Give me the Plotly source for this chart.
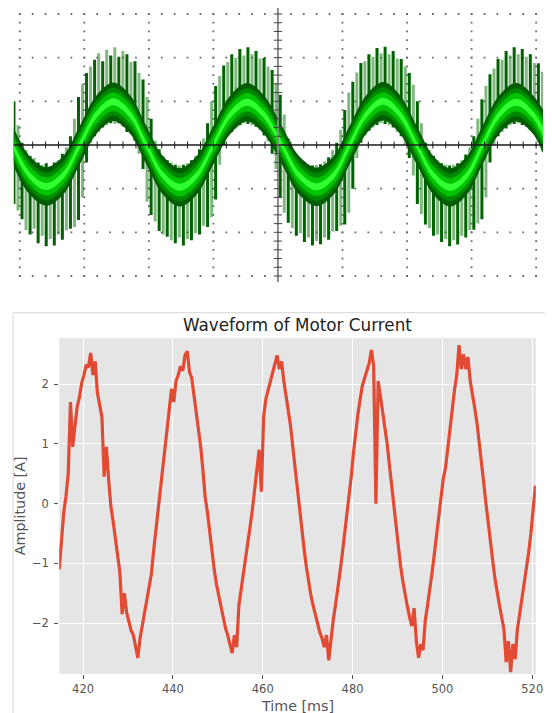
import numpy as np
import plotly.graph_objects as go

# ---------------- Bottom chart: waveform of motor current ----------------
t_start_ms = 414.7
t_step_ms = 0.5
current_A = [
    -1.10, -0.62, -0.15, 0.12, 0.50, 1.70, 0.95, 1.30, 1.62, 1.78,
    2.02, 2.15, 2.32, 2.28, 2.52, 2.15, 2.38, 1.85, 1.62, 1.45,
    0.45, 0.95, 0.40, -0.05, -0.30, -0.62, -0.90, -1.15, -1.85, -1.50,
    -1.82, -2.00, -2.12, -2.20, -2.38, -2.58, -2.25, -2.05, -1.85, -1.62,
    -1.42, -1.18, -0.80, -0.45, -0.10, 0.25, 0.62, 0.98, 1.32, 1.60,
    1.92, 1.70, 2.05, 2.15, 2.30, 2.22, 2.48, 2.55, 2.20, 2.10,
    1.80, 1.55, 1.30, 0.95, 0.55, 0.10, -0.15, -0.50, -0.80, -1.10,
    -1.35, -1.55, -1.75, -1.92, -2.08, -2.20, -2.35, -2.50, -2.20, -2.40,
    -1.70, -1.45, -1.20, -0.95, -0.62, -0.38, -0.10, 0.20, 0.55, 0.90,
    0.20, 1.45, 1.75, 1.90, 2.05, 2.20, 2.30, 2.48, 2.25, 2.38,
    2.05, 1.80, 1.55, 1.30, 0.95, 0.60, 0.22, -0.10, -0.45, -0.75,
    -1.05, -1.30, -1.52, -1.70, -1.88, -2.00, -2.15, -2.25, -2.40, -2.20,
    -2.62, -2.25, -1.95, -1.70, -1.45, -1.15, -0.85, -0.55, -0.20, 0.10,
    0.45, 0.85, 1.20, 1.50, 1.75, 1.98, 2.10, 2.25, 2.35, 2.57,
    2.30, 0.00, 2.05, 1.80, 1.55, 1.30, 1.00, 0.65, 0.30, -0.10,
    -0.45, -0.75, -1.05, -1.30, -1.55, -1.72, -1.90, -2.05, -1.75, -2.30,
    -2.58, -2.35, -2.45, -1.95, -1.70, -1.45, -1.15, -0.85, -0.55, -0.20,
    0.15, 0.42, 0.60, 0.95, 1.30, 1.60, 1.90, 2.15, 2.65, 2.25,
    2.50, 2.25, 2.45, 2.05, 1.85, 1.60, 1.35, 1.05, 0.70, 0.35,
    0.00, -0.35, -0.65, -0.95, -1.25, -1.50, -1.70, -1.90, -2.10, -2.65,
    -2.30, -2.82, -2.35, -2.60, -2.10, -1.85, -1.60, -1.35, -1.10, -0.82,
    -0.50, -0.15, 0.30,
]
time_ms = [t_start_ms + t_step_ms * i for i in range(len(current_A))]
x_ticks = [420, 440, 460, 480, 500, 520]
y_ticks = [-2, -1, 0, 1, 2]
chart_title = "Waveform of Motor Current"
x_label = "Time [ms]"
y_label = "Amplitude [A]"

# ---------------- Top panel: oscilloscope trace (screen divisions) ----------------
core_x = [-4.11, -3.85, -3.59, -3.33, -3.07, -2.81, -2.55, -2.29, -2.04, -1.78,
          -1.52, -1.26, -1.00, -0.74, -0.48, -0.22, 0.06, 0.33, 0.60, 0.86,
          1.11, 1.37, 1.63, 1.89, 2.15, 2.41, 2.67, 2.93, 3.17, 3.43,
          3.69, 3.95, 4.21]
core_y = [0.0, -0.69, -0.95, -0.70, 0.0, 0.70, 0.99, 0.70, 0.0, -0.70,
          -0.97, -0.70, 0.0, 0.69, 0.98, 0.70, 0.0, -0.70, -0.96, -0.70,
          0.0, 0.70, 1.00, 0.70, 0.0, -0.70, -0.97, -0.69, 0.0, 0.70,
          0.98, 0.70, 0.0]

spike_x0 = -4.09
spike_step = 0.0625
spike_top = [
    1.00, 0.45, 0.05, -0.12, -0.25, -0.30, -0.40, -0.45, -0.42, -0.48,
    -0.40, -0.35, -0.20, -0.05, 0.20, 0.60, 1.10, 1.40, 1.65, 1.80,
    1.95, 2.10, 1.92, 2.18, 2.05, 2.24, 2.02, 2.15, 2.08, 1.90,
    1.92, 1.65, 1.50, 1.10, 0.60, 0.10, -0.10, -0.25, -0.35, -0.40,
    -0.45, -0.47, -0.45, -0.42, -0.35, -0.25, -0.10, 0.15, 0.50, 1.00,
    1.35, 1.58, 1.82, 1.90, 2.08, 2.00, 2.20, 2.05, 2.24, 2.08,
    2.15, 1.98, 2.00, 1.80, 1.72, 1.42, 1.15, 0.70, 0.15, -0.08,
    -0.22, -0.32, -0.40, -0.45, -0.47, -0.46, -0.44, -0.38, -0.28, -0.12,
    0.05, 0.35, 0.80, 1.20, 1.45, 1.66, 1.88, 1.92, 2.08, 2.02,
    2.22, 2.10, 2.25, 2.08, 2.15, 1.98, 1.97, 1.80, 1.65, 1.38,
    1.00, 0.50, 0.05, -0.12, -0.25, -0.35, -0.42, -0.45, -0.47, -0.45,
    -0.42, -0.35, -0.22, -0.05, 0.20, 0.60, 1.05, 1.35, 1.62, 1.75,
    1.97, 1.95, 2.15, 2.05, 2.24, 2.08, 2.20, 2.02, 2.08, 1.88,
    1.87, 1.68,
]
spike_bottom = [
    -1.35, -1.50, -1.70, -1.95, -2.05, -1.92, -2.25, -2.08, -2.32, -2.15,
    -2.30, -2.05, -2.17, -1.95, -1.92, -1.88, -1.72, -1.20, -0.40, 0.05,
    0.20, 0.30, 0.40, 0.45, 0.50, 0.48, 0.50, 0.42, 0.30, 0.25,
    0.10, -0.20, -0.55, -1.30, -1.60, -1.75, -1.97, -2.05, -2.10, -2.18,
    -2.25, -2.12, -2.30, -2.15, -2.18, -2.02, -2.05, -1.85, -1.88, -1.65,
    -1.25, -0.45, 0.00, 0.20, 0.30, 0.38, 0.45, 0.50, 0.48, 0.45,
    0.42, 0.35, 0.22, 0.08, -0.20, -0.55, -1.20, -1.55, -1.78, -1.90,
    -2.08, -2.02, -2.22, -2.12, -2.30, -2.20, -2.27, -2.12, -2.17, -1.98,
    -1.97, -1.85, -1.82, -1.55, -1.00, -0.30, 0.05, 0.22, 0.32, 0.40,
    0.46, 0.50, 0.48, 0.45, 0.40, 0.30, 0.20, 0.02, -0.30, -0.70,
    -1.35, -1.58, -1.82, -1.90, -2.08, -2.05, -2.22, -2.15, -2.32, -2.18,
    -2.28, -2.08, -2.12, -1.95, -1.94, -1.80, -1.70, -1.20, -0.40, 0.00,
    0.20, 0.30, 0.38, 0.45, 0.48, 0.50, 0.46, 0.42, 0.35, 0.25,
    0.10, -0.15,
]

# ---------------- Figure ----------------
W, H = 552, 713
fig = go.Figure()

# --- oscilloscope graticule (dots) ---
gx, gy = [], []
for row in [-3, -2, -1, 1, 2, 3]:
    for j in range(41):
        gx.append(-4 + 0.2 * j); gy.append(row)
for col in [-4, -3, -2, -1, 1, 2, 3, 4]:
    for j in range(31):
        gx.append(col); gy.append(-3 + 0.2 * j)
fig.add_trace(go.Scatter(x=gx, y=gy, mode="markers", xaxis="x2", yaxis="y2",
                         marker=dict(symbol="square", size=1.8, color="#6a6a6a"),
                         hoverinfo="skip", showlegend=False))

# --- ripple spikes ---
sx = [spike_x0 + spike_step * k for k in range(len(spike_top))]
for parity, color in [(1, "rgba(0,115,0,0.5)"), (0, "rgb(0,98,0)")]:
    xs, ys = [], []
    for k in range(parity, len(sx), 2):
        xs += [sx[k], sx[k], None]
        ys += [spike_bottom[k], spike_top[k], None]
    fig.add_trace(go.Scatter(x=xs, y=ys, mode="lines", xaxis="x2", yaxis="y2",
                             line=dict(color=color, width=3.0),
                             hoverinfo="skip", showlegend=False))

# --- persistence bands around the fundamental ---
bands = [(0.44, "rgb(0,92,0)"), (0.32, "rgb(0,135,0)"),
         (0.21, "rgb(0,195,0)"), (0.08, "rgb(50,255,50)")]
for w, color in bands:
    px_ = list(core_x) + list(core_x[::-1])
    py_ = [c + w for c in core_y] + [c - w for c in core_y[::-1]]
    fig.add_trace(go.Scatter(x=px_, y=py_, mode="lines", fill="toself",
                             fillcolor=color, line=dict(width=0, shape="spline"),
                             xaxis="x2", yaxis="y2", hoverinfo="skip", showlegend=False))

# --- centre cross with ticks ---
fig.add_trace(go.Scatter(x=[-4.2, 4.2], y=[0, 0], mode="lines", xaxis="x2", yaxis="y2",
                         line=dict(color="#1a1a1a", width=1.4), hoverinfo="skip", showlegend=False))
fig.add_trace(go.Scatter(x=[-4 + 0.2 * j for j in range(41)], y=[0] * 41, mode="markers",
                         xaxis="x2", yaxis="y2",
                         marker=dict(symbol="line-ns", size=5, line=dict(color="#1a1a1a", width=1)),
                         hoverinfo="skip", showlegend=False))
fig.add_trace(go.Scatter(x=[0, 0], y=[-3.2, 3.2], mode="lines", xaxis="x2", yaxis="y2",
                         line=dict(color="#8c8c8c", width=2), hoverinfo="skip", showlegend=False))
fig.add_trace(go.Scatter(x=[0] * 31, y=[-3 + 0.2 * j for j in range(31)], mode="markers",
                         xaxis="x2", yaxis="y2",
                         marker=dict(symbol="line-ew", size=6, line=dict(color="#444", width=1)),
                         hoverinfo="skip", showlegend=False))

# --- motor current line ---
fig.add_trace(go.Scatter(x=time_ms, y=current_A, mode="lines", xaxis="x", yaxis="y",
                         line=dict(color="#E24A33", width=3.2),
                         hoverinfo="skip", showlegend=False))

font = "DejaVu Sans"
x_dom = [60 / W, 542.7 / W]
y_dom = [(H - 674) / H, (H - 338) / H]

fig.update_layout(
    width=W, height=H,
    margin=dict(l=0, r=0, t=0, b=0),
    paper_bgcolor="white", plot_bgcolor="white",
    showlegend=False,
    xaxis=dict(domain=x_dom, range=[414.7, 520.8], anchor="y",
               tickmode="array", tickvals=x_ticks, ticktext=[str(v) for v in x_ticks],
               ticks="outside", ticklen=4, tickwidth=1, tickcolor="#555",
               showgrid=True, gridcolor="white", gridwidth=1,
               zeroline=False, showline=False,
               tickfont=dict(family=font, size=11.5, color="#555")),
    yaxis=dict(domain=y_dom, range=[-2.85, 2.77], anchor="x",
               tickmode="array", tickvals=y_ticks, ticktext=[("\u2212" + str(-v)) if v < 0 else str(v) for v in y_ticks],
               ticks="outside", ticklen=4, tickwidth=1, tickcolor="#555",
               showgrid=True, gridcolor="white", gridwidth=1,
               zeroline=False, showline=False, ticklabelstandoff=3,
               tickfont=dict(family=font, size=11.5, color="#555")),
    xaxis2=dict(domain=[14 / W, 550 / W], range=[-4.092, 4.107], anchor="y2", visible=False),
    yaxis2=dict(domain=[(H - 282) / H, (H - 8) / H], range=[-3.137, 3.137], anchor="x2", visible=False),
    shapes=[
        dict(type="rect", xref="paper", yref="paper", x0=x_dom[0], x1=x_dom[1],
             y0=y_dom[0], y1=y_dom[1], fillcolor="#E5E5E5", line=dict(width=0), layer="below"),
        dict(type="line", xref="paper", yref="paper", x0=13.3 / W, x1=1.0,
             y0=(H - 312.7) / H, y1=(H - 312.7) / H, line=dict(color="#d6d6d6", width=1)),
        dict(type="line", xref="paper", yref="paper", x0=13.3 / W, x1=13.3 / W,
             y0=0, y1=(H - 312.7) / H, line=dict(color="#d6d6d6", width=1)),
    ],
    annotations=[
        dict(text=chart_title, xref="paper", yref="paper", x=301.3 / W, y=(H - 325) / H,
             showarrow=False, xanchor="center", yanchor="middle",
             font=dict(family=font, size=16.8, color="#222")),
        dict(text=x_label, xref="paper", yref="paper", x=301.5 / W, y=(H - 705.5) / H,
             showarrow=False, xanchor="center", yanchor="middle",
             font=dict(family=font, size=14.3, color="#555")),
        dict(text=y_label, xref="paper", yref="paper", x=20.5 / W, y=(H - 506) / H,
             showarrow=False, xanchor="center", yanchor="middle", textangle=-90,
             font=dict(family=font, size=14.3, color="#555")),
    ],
)

fig.write_html("out.html", config={"displayModeBar": False, "staticPlot": True},
               post_script="document.body.style.margin='0px';")
